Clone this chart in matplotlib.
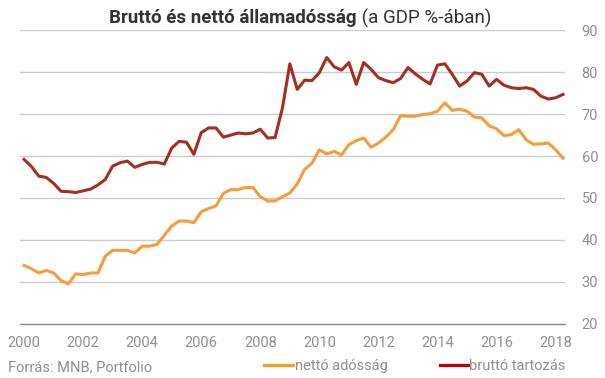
import matplotlib
matplotlib.use("Agg")
import matplotlib.pyplot as plt
from matplotlib.lines import Line2D

plt.rcParams['font.family'] = ['Roboto', 'DejaVu Sans']

# negyedéves adatok, 2000 Q1 - 2018 Q2 (a GDP %-ában)
brutto = [59.2, 57.5, 55.2, 54.9, 53.5, 51.6, 51.5, 51.3, 51.7, 52.1,
          53.1, 54.4, 57.6, 58.4, 58.8, 57.3, 58.0, 58.5, 58.5, 58.1,
          61.9, 63.5, 63.3, 60.4, 65.6, 66.7, 66.7, 64.5, 65.0, 65.5,
          65.3, 65.5, 66.4, 64.3, 64.4, 71.5, 82.0, 75.9, 78.1, 78.0,
          79.9, 83.5, 81.3, 80.5, 82.3, 77.1, 82.3, 80.7, 78.7, 78.0,
          77.5, 78.5, 81.1, 79.6, 78.3, 77.2, 81.7, 82.0, 79.5, 76.7,
          77.9, 79.9, 79.5, 76.7, 78.3, 76.9, 76.3, 76.1, 76.3, 75.9,
          74.3, 73.6, 73.9, 74.7]
netto = [33.9, 33.1, 32.1, 32.7, 32.1, 30.3, 29.5, 31.9, 31.7, 32.1,
         32.1, 36.1, 37.5, 37.5, 37.5, 36.9, 38.5, 38.5, 38.9, 41.1,
         43.3, 44.5, 44.5, 44.1, 46.7, 47.5, 48.1, 51.1, 52.0, 52.0,
         52.5, 52.5, 50.3, 49.3, 49.3, 50.3, 51.2, 53.3, 56.8, 58.3,
         61.5, 60.5, 61.1, 60.3, 62.7, 63.7, 64.3, 62.1, 63.1, 64.5,
         66.3, 69.6, 69.5, 69.5, 69.9, 70.1, 70.7, 72.7, 70.9, 71.2,
         70.7, 69.3, 69.1, 67.2, 66.5, 64.9, 65.1, 66.3, 63.9, 62.8,
         62.9, 63.1, 61.5, 59.5]
evek = ['2000', '2002', '2004', '2006', '2008', '2010', '2012', '2014', '2016', '2018']
y_ticks = [20, 30, 40, 50, 60, 70, 80, 90]

W, H = 605, 378
fig = plt.figure(figsize=(W / 100, H / 100), dpi=100)
ax = fig.add_axes([20 / W, (H - 323.7) / H, (565 - 20) / W, (323.7 - 30.3) / H])

x = list(range(len(brutto)))
ax.plot(x, netto, color='#f59c3c', linewidth=2.2, solid_joinstyle='round')
ax.plot(x, brutto, color='#a3301f', linewidth=2.2, solid_joinstyle='round')

ax.set_xlim(-0.55, len(brutto) - 1 + 0.27)
ax.set_ylim(20, 90)
ax.set_xticks([i * 8 for i in range(len(evek))])
ax.set_xticklabels(evek)
ax.set_yticks(y_ticks)
ax.yaxis.tick_right()
ax.tick_params(axis='y', length=0, pad=12, labelsize=10.5, labelcolor='#8f8f8f')
ax.tick_params(axis='x', length=0, pad=9, labelsize=10.5, labelcolor='#8f8f8f')
ax.grid(axis='y', color='#cccccc', linewidth=1)
ax.set_axisbelow(True)
for s in ['top', 'right', 'left']:
    ax.spines[s].set_visible(False)
ax.spines['bottom'].set_color('#8c8c8c')
ax.spines['bottom'].set_linewidth(1)

# cím: félkövér + normál rész
cim1 = fig.text(0, 1 - 18 / H, 'Bruttó és nettó államadósság', fontsize=13.5,
                fontweight='bold', color='#333333', va='center')
cim2 = fig.text(0, 1 - 18 / H, ' (a GDP %-ában)', fontsize=13.5,
                color='#333333', va='center')
r = fig.canvas.get_renderer()
w1 = cim1.get_window_extent(r).width
w2 = cim2.get_window_extent(r).width
bal = 300 - (w1 + w2) / 2
cim1.set_x(bal / W)
cim2.set_x((bal + w1) / W)

# forrás és jelmagyarázat
fig.text(8 / W, 1 - 367 / H, 'Forrás: MNB, Portfolio', fontsize=10.5,
         color='#8f8f8f', va='center')
fig.add_artist(Line2D([264 / W, 293 / W], [1 - 365 / H] * 2, color='#f9a01b', linewidth=2.3))
fig.text(295 / W, 1 - 366 / H, 'nettó adósság', fontsize=10.5, color='#8f8f8f', va='center')
fig.add_artist(Line2D([440 / W, 468 / W], [1 - 365 / H] * 2, color='#c00000', linewidth=2.3))
fig.text(469 / W, 1 - 366 / H, 'bruttó tartozás', fontsize=10.5, color='#8f8f8f', va='center')

fig.savefig('out.png', dpi=100)
